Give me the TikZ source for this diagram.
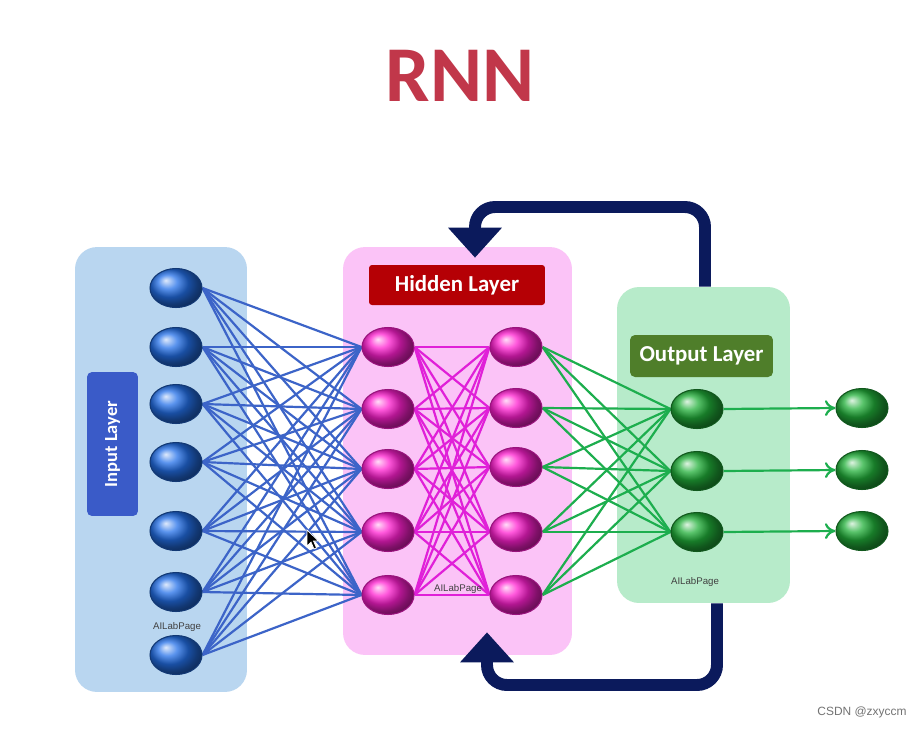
\documentclass[tikz,border=0pt]{standalone}
\usepackage{fontspec}
\setmainfont{Carlito}
\newfontfamily\arialf{Liberation Sans}
\usetikzlibrary{shapes.geometric,arrows.meta}
\definecolor{titlered}{HTML}{C1374A}
\definecolor{inbg}{HTML}{B9D6F0}
\definecolor{hidbg}{HTML}{FBC3F7}
\definecolor{outbg}{HTML}{B7EBCA}
\definecolor{inlabc}{HTML}{3A5BC8}
\definecolor{hidlabc}{HTML}{B50005}
\definecolor{outlabc}{HTML}{4F7E2A}
\definecolor{navy}{HTML}{0B1A5C}
\definecolor{bluel}{HTML}{3C64C8}
\definecolor{magl}{HTML}{E020D8}
\definecolor{greenl}{HTML}{1DAE4E}
\definecolor{nblue}{HTML}{2470E8}
\definecolor{npink}{HTML}{FF20D0}
\definecolor{ngreen}{HTML}{22B03A}
\pgfdeclarelayer{bg}
\pgfdeclarelayer{edges}
\pgfsetlayers{bg,edges,main}
\tikzset{
  layerbox/.style={rectangle, rounded corners=0.44cm, inner sep=0pt},
  labbox/.style={rectangle, rounded corners=0.1cm, inner sep=0pt, text=white, font=\bfseries\fontsize{13}{15}\selectfont},
  neuron/.style={ellipse, minimum width=1.04cm, minimum height=0.78cm, inner sep=0pt, line width=0.6pt},
  inneuron/.style={neuron, ball color=nblue, draw=nblue!50!black},
  hidneuron/.style={neuron, ball color=npink, draw=npink!60!black},
  outneuron/.style={neuron, ball color=ngreen, draw=ngreen!50!black},
  bline/.style={draw=bluel, line width=1.25pt},
  mline/.style={draw=magl, line width=1.25pt},
  gline/.style={draw=greenl, line width=1.25pt},
  fb/.style={draw=navy, line width=6.8pt, rounded corners=0.4cm, -{Triangle[width=1.04cm,length=0.6cm]}},
  wm/.style={font=\arialf\fontsize{5.5}{6}\selectfont, text=black!75}
}
\begin{document}
\begin{tikzpicture}[x=0.02cm, y=-0.02cm]
\useasboundingbox (0,0) rectangle (917,728);

% layer boxes
\begin{pgfonlayer}{bg}
\fill[white] (0,0) rectangle (917,728);
\node[layerbox, fill=inbg, minimum width=3.44cm, minimum height=8.9cm] (inbox) at (161,469.5) {};
\node[layerbox, fill=hidbg, minimum width=4.58cm, minimum height=8.16cm] (hidbox) at (457.5,451) {};
\node[layerbox, fill=outbg, minimum width=3.46cm, minimum height=6.32cm] (outbox) at (703.5,445) {};
\end{pgfonlayer}

% title
\node[text=titlered, font=\bfseries\fontsize{45}{50}\selectfont] (title) at (460,76) {RNN};

% labels
\node[labbox, fill=inlabc, minimum width=2.88cm, minimum height=1.02cm, rotate=90, font=\bfseries\fontsize{10.5}{12}\selectfont] (inlab) at (112.5,444) {Input Layer};
\node[labbox, fill=hidlabc, minimum width=3.52cm, minimum height=0.8cm, rounded corners=0.06cm] (hidlab) at (457,285) {Hidden Layer};
\node[labbox, fill=outlabc, minimum width=2.86cm, minimum height=0.84cm] (outlab) at (701.5,356) {Output Layer};

% neurons
\foreach \y [count=\i] in {288,347,404,462,531,592,655}
  \node[inneuron] (i\i) at (176,\y) {};
\foreach \y [count=\i] in {347,409,469,532,595}
  \node[hidneuron] (h\i) at (388,\y) {};
\foreach \y [count=\i] in {347,408,467,532,595}
  \node[hidneuron] (k\i) at (516,\y) {};
\foreach \y [count=\i] in {409,471,532}
  \node[outneuron] (o\i) at (697,\y) {};
\foreach \y [count=\i] in {408,470,531}
  \node[outneuron] (f\i) at (862,\y) {};

% connections
\begin{pgfonlayer}{edges}
\foreach \i in {1,...,7}
  \foreach \j in {1,...,5}
    \draw[bline] (i\i.east) -- (h\j.west);
\foreach \i in {1,...,5}
  \foreach \j in {1,...,5}
    \draw[mline] (h\i.east) -- (k\j.west);
\foreach \i in {1,...,5}
  \foreach \j in {1,...,3}
    \draw[gline] (k\i.east) -- (o\j.west);
\end{pgfonlayer}
\foreach \i in {1,2,3}
  \draw[gline, -{To[length=6pt,width=9pt]}] (o\i.east) -- (f\i.west);

% feedback arrows
\coordinate (t1) at (705,207);
\coordinate (t2) at (475,207);
\draw[fb] (outbox.north -| t1) -- (t1) -- (t2) -- ([yshift=-0.22cm]hidbox.north -| t2);
\coordinate (b1) at (717,685);
\coordinate (b2) at (487,685);
\draw[fb] (outbox.south -| b1) -- (b1) -- (b2) -- ([yshift=0.46cm]hidbox.south -| b2);

% watermarks
\node[wm] (w1) at (177,627) {AILabPage};
\node[wm] (w2) at (458,589) {AILabPage};
\node[wm] (w3) at (695,582) {AILabPage};
\node[font=\arialf\fontsize{6.8}{8}\selectfont, text=black!55] (csdn) at (862,712) {CSDN @zxyccm};

% mouse pointer
\filldraw[fill=black, draw=white, line width=0.4pt] (307,530) -- (307,546) -- (311,542) -- (314,549) -- (316.5,548) -- (313.5,541) -- (318.5,541) -- cycle;
\end{tikzpicture}
\end{document}
